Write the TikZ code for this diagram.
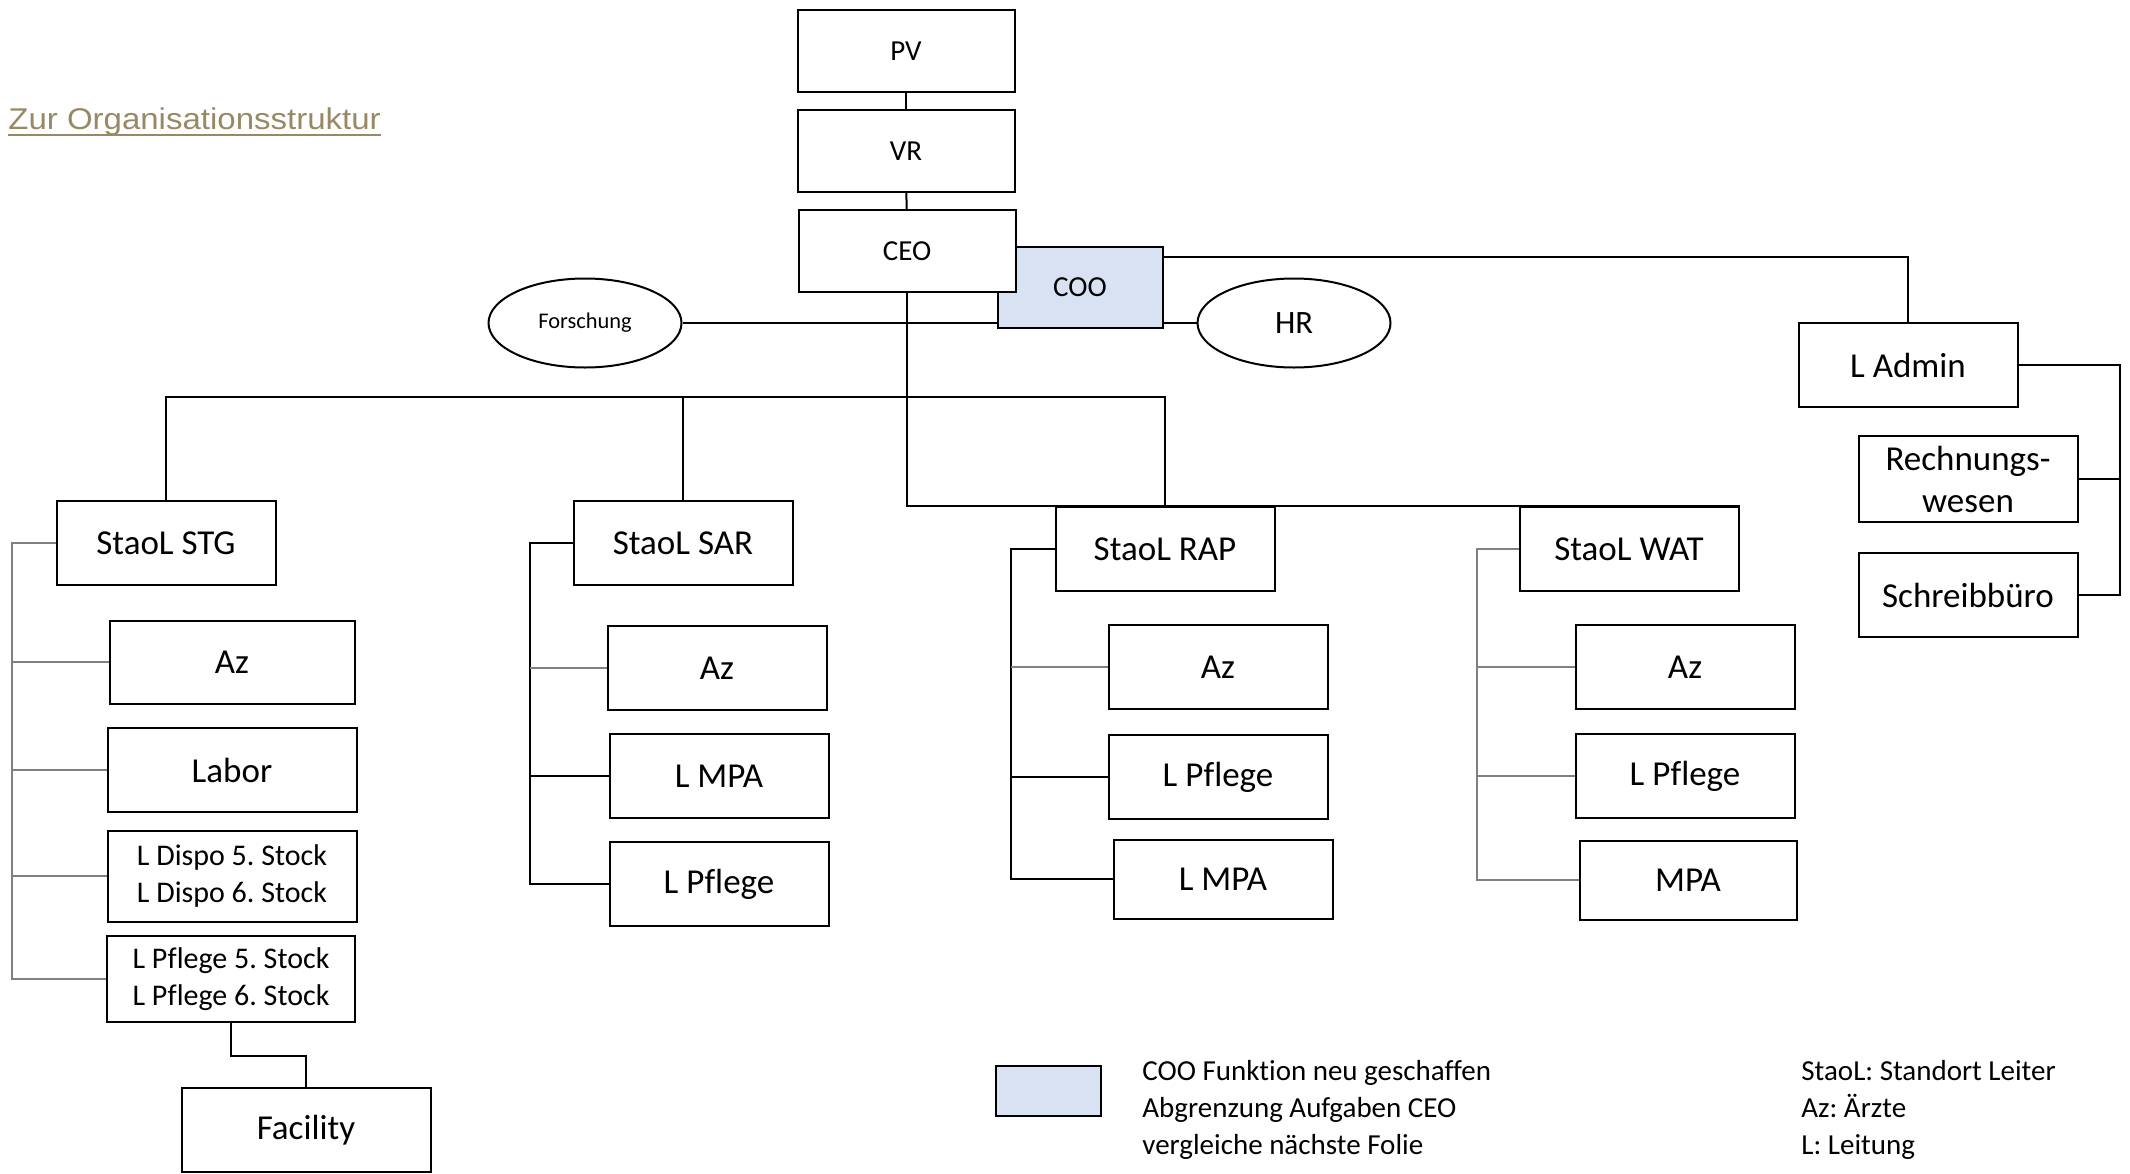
\documentclass[tikz,border=0pt]{standalone}
\usepackage{fontspec}
\setmainfont[Ligatures=NoCommon]{Carlito}
\newfontfamily\linkfont[FakeStretch=1.1]{Liberation Sans}
\usetikzlibrary{shapes,positioning}

\definecolor{cooblue}{RGB}{217,226,242}
\definecolor{linkcol}{RGB}{152,137,101}

\tikzset{
    box/.style={draw=black, line width=1pt, fill=white, align=center, inner sep=1pt,
        minimum width=109.5pt, minimum height=42pt, font=\fontsize{17.5}{21}\selectfont},
    topbox/.style={box, minimum width=108.5pt, minimum height=41pt, font=\fontsize{14.5}{17}\selectfont},
    stockbox/.style={box, minimum width=124.5pt, font=\fontsize{15}{18.3}\selectfont},
    oval/.style={draw=black, line width=1pt, fill=white, ellipse, inner sep=0pt,
        minimum width=96.5pt, minimum height=44.5pt},
    conn/.style={line width=1pt},
    thinconn/.style={line width=0.6pt, draw=black!50},
}

\begin{document}
\frenchspacing
\begin{tikzpicture}[x=0.5pt,y=-0.5pt]
    \useasboundingbox (0,0) rectangle (2130,1173);

    % Link
    \node [anchor=base west, inner sep=0pt, text=linkcol, font=\linkfont\fontsize{15}{18}\selectfont] (link) at (8,129) {Zur Organisationsstruktur};
    \draw [linkcol, line width=1pt] ([yshift=-3pt]link.base west) -- ([yshift=-3pt]link.base east);

    % Top chain
    \node [topbox] (pv) at (906,51) {PV};
    \node [topbox] (vr) at (906,151) {VR};
    \node [box, fill=cooblue, minimum width=82.5pt, minimum height=40.5pt, font=\fontsize{14.5}{17}\selectfont] (coo) at (1080,287) {COO};
    \node [topbox] (ceo) at (907,251) {CEO};
    \node [oval, font=\fontsize{11.2}{13}\selectfont] (forsch) at (585,323) {Forschung};
    \node [oval, font=\fontsize{16.3}{19}\selectfont] (hr) at (1294,323) {HR};

    % Admin
    \node [box] (ladmin) at (1908,365) {L Admin};
    \node [box, minimum height=43pt] (rechnung) at (1968,479) {Rechnungs-\\wesen};
    \node [box] (schreib) at (1968,595) {Schreibbüro};

    % Standorte
    \node [box] (stg) at (166,543) {StaoL STG};
    \node [box] (sar) at (683,543) {StaoL SAR};
    \node [box] (rap) at (1165,549) {StaoL RAP};
    \node [box] (wat) at (1629,549) {StaoL WAT};

    % STG
    \node [box, minimum width=122.5pt, minimum height=41.5pt] (azstg) at (232,662) {Az};
    \node [box, minimum width=124.5pt] (labor) at (232,770) {Labor};
    \node [stockbox, minimum height=45.5pt] (dispo) at (232,876) {L Dispo 5. Stock\\L Dispo 6. Stock};
    \node [stockbox, minimum width=124pt, minimum height=43pt] (pflstg) at (231,979) {L Pflege 5. Stock\\L Pflege 6. Stock};
    \node [box, minimum width=124.5pt] (facility) at (306,1130) {Facility};

    % SAR
    \node [box] (azsar) at (717,668) {Az};
    \node [box] (mpasar) at (719,776) {L MPA};
    \node [box] (pflsar) at (719,884) {L Pflege};

    % RAP
    \node [box] (azrap) at (1218,667) {Az};
    \node [box] (pflrap) at (1218,777) {L Pflege};
    \node [box, minimum height=39.5pt] (mparap) at (1223,879) {L MPA};

    % WAT
    \node [box] (azwat) at (1685,667) {Az};
    \node [box] (pflwat) at (1685,776) {L Pflege};
    \node [box, minimum width=108.5pt, minimum height=39.5pt] (mpawat) at (1688,880) {MPA};

    % Legend
    \node [draw=black, line width=1pt, fill=cooblue, minimum width=52.5pt, minimum height=25pt] (legbox) at (1048,1091) {};
    \node [anchor=west, align=left, inner sep=0pt, font=\fontsize{14.5}{18.3}\selectfont] (legcoo) at (1142,1110) {COO Funktion neu geschaffen\\Abgrenzung Aufgaben CEO\\vergleiche nächste Folie};
    \node [anchor=west, align=left, inner sep=0pt, font=\fontsize{14.5}{18.3}\selectfont] (legabbr) at (1801,1110) {StaoL: Standort Leiter\\Az: Ärzte\\L: Leitung};

    % Lines top
    \coordinate (bus) at (907,397);
    \draw [conn] (pv) -- (vr);
    \draw [conn] (vr) -- (ceo);
    \draw [conn] (ceo.south) |- (wat.north east);
    \draw [conn] (stg.north) |- (bus) -| (rap.north);
    \draw [conn] (sar.north) -- (sar.north |- bus);
    \draw [conn] (forsch.east) -- (forsch.east -| coo.west);
    \draw [conn] (hr.west -| coo.east) -- (hr.west);
    \draw [conn] ([yshift=-5.5pt]coo.north east) -| (ladmin.north);

    % Lines admin
    \coordinate (adminrail) at (2120,595);
    \draw [conn] (ladmin.east) -| (adminrail) -- (schreib.east);
    \draw [conn] (rechnung.east) -- (rechnung.east -| adminrail);

    % Lines STG
    \coordinate (stgrail) at (12,979);
    \draw [thinconn] (stg.west) -| (stgrail) -- (pflstg.west);
    \draw [thinconn] (azstg.west) -- (azstg.west -| stgrail);
    \draw [thinconn] (labor.west) -- (labor.west -| stgrail);
    \draw [thinconn] (dispo.west) -- (dispo.west -| stgrail);
    \draw [conn] (pflstg.south) -- ++(0,33) -| (facility.north);

    % Lines SAR
    \coordinate (sarrail) at (530,884);
    \draw [conn] (sar.west) -| (sarrail) -- (pflsar.west);
    \draw [thinconn] (azsar.west) -- (azsar.west -| sarrail);
    \draw [conn] (mpasar.west) -- (mpasar.west -| sarrail);

    % Lines RAP
    \coordinate (raprail) at (1011,879);
    \draw [conn] (rap.west) -| (raprail) -- (mparap.west);
    \draw [thinconn] (azrap.west) -- (azrap.west -| raprail);
    \draw [conn] (pflrap.west) -- (pflrap.west -| raprail);

    % Lines WAT
    \coordinate (watrail) at (1477,880);
    \draw [thinconn] (wat.west) -| (watrail) -- (mpawat.west);
    \draw [thinconn] (azwat.west) -- (azwat.west -| watrail);
    \draw [thinconn] (pflwat.west) -- (pflwat.west -| watrail);

\end{tikzpicture}
\end{document}
